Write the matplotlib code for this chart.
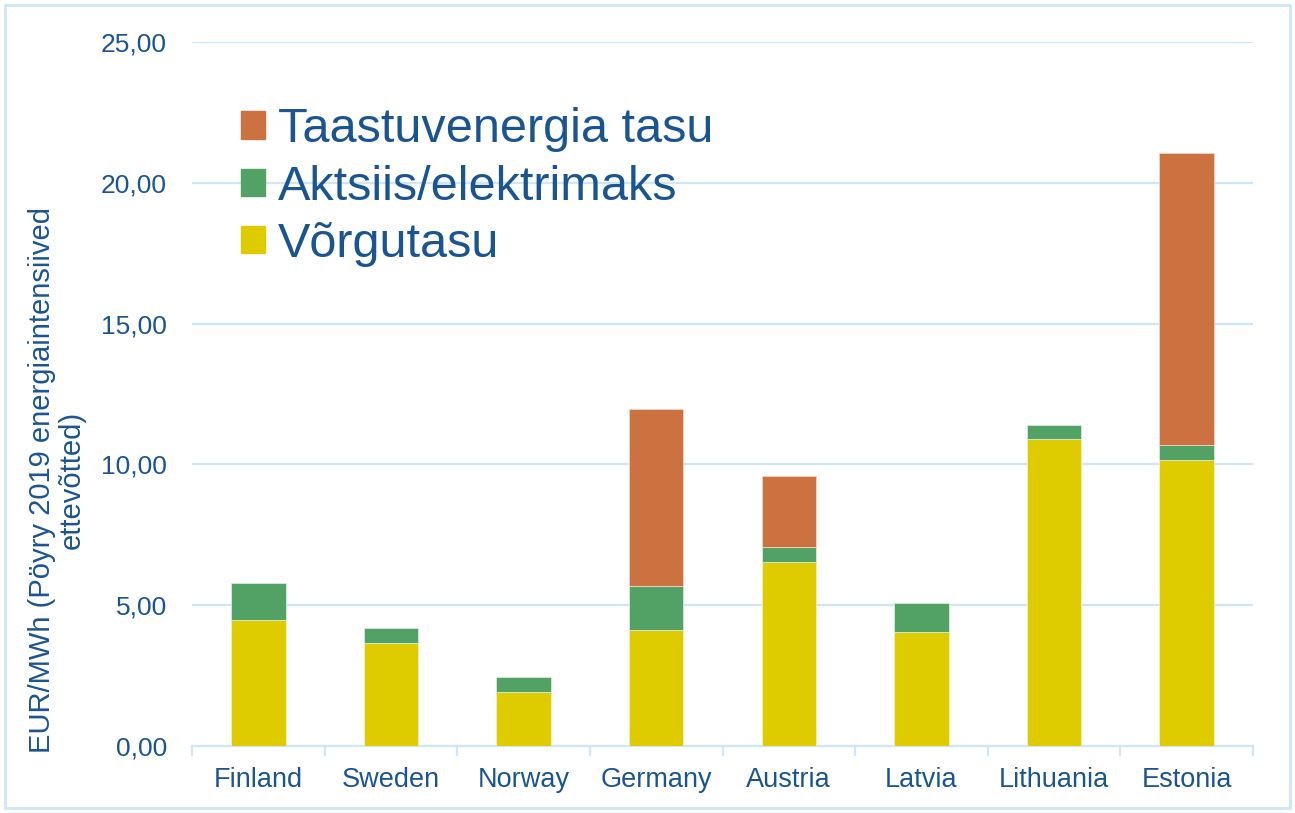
import matplotlib.pyplot as plt
from matplotlib.patches import Rectangle, Patch
from matplotlib.ticker import FuncFormatter, FixedLocator

countries = ['Finland', 'Sweden', 'Norway', 'Germany', 'Austria', 'Latvia', 'Lithuania', 'Estonia']
vorgutasu = [4.47, 3.65, 1.93, 4.12, 6.54, 4.05, 10.89, 10.16]
aktsiis = [1.31, 0.53, 0.53, 1.56, 0.54, 1.03, 0.51, 0.53]
taastuv = [0.00, 0.00, 0.00, 6.29, 2.52, 0.00, 0.00, 10.38]

c_yellow = '#DFCC00'
c_green = '#52A266'
c_orange = '#CC7240'
c_text = '#1A5592'
c_grid = '#CFE5F8'

plt.rcParams['font.family'] = ['Liberation Sans', 'DejaVu Sans']

fig = plt.figure(figsize=(12.95, 8.13), dpi=100)
ax = fig.add_axes([192 / 1295, 1 - 746 / 813, (1253 - 192) / 1295, (746 - 42) / 813])

x = range(len(countries))
w = 0.41
ax.bar(x, vorgutasu, w, color=c_yellow, edgecolor='#F4EFC0', linewidth=0.6, zorder=3)
bottom2 = vorgutasu
ax.bar(x, aktsiis, w, bottom=bottom2, color=c_green, edgecolor='#D8EBDD', linewidth=0.6, zorder=3)
bottom3 = [a + b for a, b in zip(vorgutasu, aktsiis)]
ax.bar(x, taastuv, w, bottom=bottom3, color=c_orange,
       edgecolor=['none' if t == 0 else '#F2D3C2' for t in taastuv], linewidth=0.6, zorder=3)

ax.set_ylim(0, 25)
ax.set_xlim(-0.5, len(countries) - 0.5)
ax.set_yticks([0, 5, 10, 15, 20, 25])
ax.yaxis.set_major_formatter(FuncFormatter(lambda v, p: f'{v:.2f}'.replace('.', ',')))
ax.grid(axis='y', color=c_grid, linewidth=1.6, zorder=0)

ax.set_xticks(list(x))
ax.set_xticklabels(countries)
ax.xaxis.set_minor_locator(FixedLocator([i - 0.5 for i in range(len(countries) + 1)]))
ax.tick_params(axis='x', which='major', length=0, pad=15, labelsize=19.5, labelcolor=c_text)
ax.tick_params(axis='x', which='minor', length=7, width=1.6, color=c_grid)
ax.tick_params(axis='y', length=0, pad=18, labelsize=19, labelcolor=c_text)

for s in ['top', 'right', 'left']:
    ax.spines[s].set_visible(False)
ax.spines['bottom'].set_color(c_grid)
ax.spines['bottom'].set_linewidth(1.6)

# y label as figure text
fig.text(57 / 1295, 1 - 480 / 813, 'EUR/MWh (Pöyry 2019 energiaintensiived\nettevõtted)',
         rotation=90, ha='center', va='center', multialignment='center',
         fontsize=21, color=c_text, linespacing=1.05)

handles = [Patch(color=c_orange), Patch(color=c_green), Patch(color=c_yellow)]
labels = ['Taastuvenergia tasu', 'Aktsiis/elektrimaks', 'Võrgutasu']
leg = ax.legend(handles, labels, loc='upper left', bbox_to_anchor=(0.046, 0.907),
                frameon=False, fontsize=35, handlelength=0.5, handleheight=0.5,
                handletextpad=0.27, labelspacing=0.25, borderaxespad=0, borderpad=0)
for t in leg.get_texts():
    t.set_color(c_text)

fig.patches.append(Rectangle((5 / 1295, 5 / 813), 1285 / 1295, 803 / 813,
                             transform=fig.transFigure, fill=False,
                             edgecolor=c_grid, linewidth=2))

fig.savefig('out.png', dpi=100)
